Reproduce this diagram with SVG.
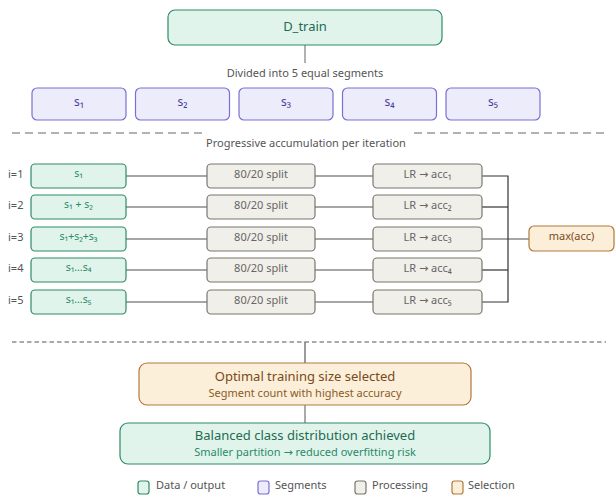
<svg xmlns="http://www.w3.org/2000/svg" width="616" height="495" viewBox="0 0 616 495">
<style>
text{font-family:"Noto Sans","DejaVu Sans",sans-serif;text-anchor:middle}
.g{fill:#e1f4ec;stroke:#2f8a69;stroke-width:1.2}
.p{fill:#ececfb;stroke:#7a6fd4;stroke-width:1.2}
.q{fill:#f1efe9;stroke:#77776f;stroke-width:1.2}
.o{fill:#fcefd9;stroke:#b07a3c;stroke-width:1.2}
.tg{fill:#1f6b50}
.tr{fill:#2a8a68;font-size:10.5px}
.tp{fill:#4a3fa0;font-size:12px}
.tq{fill:#666;font-size:11px}
.to{fill:#7a4a1a}
.lab{fill:#555;font-size:11px}
.il{fill:#555;font-size:11px;text-anchor:start}
.c{stroke:#888;stroke-width:1.3;fill:none}
.k{stroke:#333;stroke-width:1.2;fill:none}
.leg{fill:#555;font-size:11px;text-anchor:start}
</style>

<g id="connectors">
  <line class="c" x1="305" y1="45" x2="305" y2="63" stroke="#555"/>
  <line x1="12" y1="133" x2="205" y2="133" stroke="#999" stroke-width="1.6" stroke-dasharray="8 5"/>
  <line x1="414" y1="133" x2="606" y2="133" stroke="#999" stroke-width="1.6" stroke-dasharray="8 5"/>
  <g class="c">
    <line x1="126" y1="176" x2="207" y2="176"/><line x1="315" y1="176" x2="373" y2="176"/>
    <line x1="126" y1="207" x2="207" y2="207"/><line x1="315" y1="207" x2="373" y2="207"/>
    <line x1="126" y1="239" x2="207" y2="239"/><line x1="315" y1="239" x2="373" y2="239"/>
    <line x1="126" y1="270" x2="207" y2="270"/><line x1="315" y1="270" x2="373" y2="270"/>
    <line x1="126" y1="302" x2="207" y2="302"/><line x1="315" y1="302" x2="373" y2="302"/>
    <line x1="482" y1="239" x2="529" y2="239"/>
  </g>
  <g class="k">
    <polyline points="482,176 508,176 508,302 482,302"/>
    <line x1="482" y1="207" x2="508" y2="207"/>
    <line x1="482" y1="270" x2="508" y2="270"/>
  </g>
  <line x1="12" y1="342" x2="606" y2="342" stroke="#555" stroke-width="1" stroke-dasharray="4.5 3"/>
  <line x1="305" y1="342" x2="305" y2="363" stroke="#666" stroke-width="1.3"/>
  <line x1="305" y1="405" x2="305" y2="423" stroke="#aaa" stroke-width="2"/>
</g>

<g id="dtrain">
  <rect class="g" x="168" y="10" width="274" height="35" rx="7"/>
  <text class="tg" x="305" y="31" font-size="13">D_train</text>
</g>
<text class="lab" x="305" y="77">Divided into 5 equal segments</text>

<g id="seg1"><rect class="p" x="32" y="88" width="94" height="32" rx="5"/><text class="tp" x="79" y="106">s₁</text></g>
<g id="seg2"><rect class="p" x="135.5" y="88" width="94" height="32" rx="5"/><text class="tp" x="182.5" y="106">s₂</text></g>
<g id="seg3"><rect class="p" x="239" y="88" width="94" height="32" rx="5"/><text class="tp" x="286" y="106">s₃</text></g>
<g id="seg4"><rect class="p" x="342.5" y="88" width="94" height="32" rx="5"/><text class="tp" x="389.5" y="106">s₄</text></g>
<g id="seg5"><rect class="p" x="446" y="88" width="94" height="32" rx="5"/><text class="tp" x="493" y="106">s₅</text></g>

<text class="lab" x="306" y="147">Progressive accumulation per iteration</text>

<text class="il" x="8" y="178">i=1</text>
<text class="il" x="8" y="209">i=2</text>
<text class="il" x="8" y="241">i=3</text>
<text class="il" x="8" y="272">i=4</text>
<text class="il" x="8" y="304">i=5</text>

<g id="row1">
  <rect class="g" x="31" y="164" width="95" height="24" rx="4"/><text class="tr" x="78.5" y="177">s₁</text>
</g>
<g id="row2">
  <rect class="g" x="31" y="195" width="95" height="24" rx="4"/><text class="tr" x="78.5" y="208">s₁ + s₂</text>
</g>
<g id="row3">
  <rect class="g" x="31" y="227" width="95" height="24" rx="4"/><text class="tr" x="78.5" y="240">s₁+s₂+s₃</text>
</g>
<g id="row4">
  <rect class="g" x="31" y="258" width="95" height="24" rx="4"/><text class="tr" x="78.5" y="271">s₁…s₄</text>
</g>
<g id="row5">
  <rect class="g" x="31" y="290" width="95" height="24" rx="4"/><text class="tr" x="78.5" y="303">s₁…s₅</text>
</g>

<g id="split1"><rect class="q" x="207" y="164" width="108" height="24" rx="4"/><text class="tq" x="261" y="178">80/20 split</text></g>
<g id="split2"><rect class="q" x="207" y="195" width="108" height="24" rx="4"/><text class="tq" x="261" y="209">80/20 split</text></g>
<g id="split3"><rect class="q" x="207" y="227" width="108" height="24" rx="4"/><text class="tq" x="261" y="241">80/20 split</text></g>
<g id="split4"><rect class="q" x="207" y="258" width="108" height="24" rx="4"/><text class="tq" x="261" y="272">80/20 split</text></g>
<g id="split5"><rect class="q" x="207" y="290" width="108" height="24" rx="4"/><text class="tq" x="261" y="304">80/20 split</text></g>

<g id="lr1"><rect class="q" x="373" y="164" width="109" height="24" rx="4"/><text class="tq" x="427.5" y="178">LR → acc₁</text></g>
<g id="lr2"><rect class="q" x="373" y="195" width="109" height="24" rx="4"/><text class="tq" x="427.5" y="209">LR → acc₂</text></g>
<g id="lr3"><rect class="q" x="373" y="227" width="109" height="24" rx="4"/><text class="tq" x="427.5" y="241">LR → acc₃</text></g>
<g id="lr4"><rect class="q" x="373" y="258" width="109" height="24" rx="4"/><text class="tq" x="427.5" y="272">LR → acc₄</text></g>
<g id="lr5"><rect class="q" x="373" y="290" width="109" height="24" rx="4"/><text class="tq" x="427.5" y="304">LR → acc₅</text></g>

<g id="maxacc">
  <rect class="o" x="529" y="226" width="85" height="25" rx="5"/>
  <text class="to" x="571.5" y="240" font-size="11">max(acc)</text>
</g>

<g id="optimal">
  <rect class="o" x="139" y="363" width="332" height="42" rx="8"/>
  <text class="to" x="305" y="381" font-size="13" fill="#6b4520">Optimal training size selected</text>
  <text x="305" y="397" font-size="11" fill="#8a5a28">Segment count with highest accuracy</text>
</g>

<g id="balanced">
  <rect class="g" x="120" y="423" width="370" height="41" rx="8"/>
  <text class="tg" x="305" y="440" font-size="13">Balanced class distribution achieved</text>
  <text x="305" y="456" font-size="11" fill="#2a8a68">Smaller partition → reduced overfitting risk</text>
</g>

<g id="legend">
  <rect class="g" x="138" y="481" width="11" height="13" rx="2.5"/>
  <text class="leg" x="156" y="489">Data / output</text>
  <rect class="p" x="258" y="481" width="11" height="13" rx="2.5"/>
  <text class="leg" x="275" y="489">Segments</text>
  <rect class="q" x="355" y="481" width="11" height="13" rx="2.5"/>
  <text class="leg" x="372" y="489">Processing</text>
  <rect class="o" x="452" y="481" width="11" height="13" rx="2.5"/>
  <text class="leg" x="468" y="489">Selection</text>
</g>
</svg>
